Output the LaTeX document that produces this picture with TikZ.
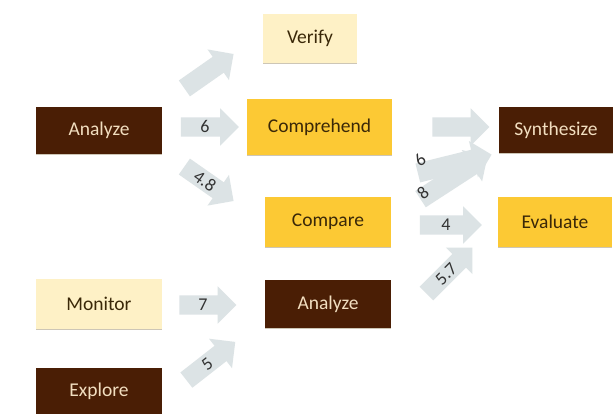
\documentclass[tikz,border=0pt]{standalone}
\usepackage{fontspec}
\setmainfont{Carlito}
\usetikzlibrary{shapes.arrows,shadows}
\definecolor{brn}{HTML}{4A1E05}
\definecolor{brntext}{HTML}{F2DEC0}
\definecolor{pale}{HTML}{FEF1C6}
\definecolor{gold}{HTML}{FCC934}
\definecolor{inktext}{HTML}{3A2808}
\definecolor{arr}{HTML}{DCE3E5}
\definecolor{shd}{HTML}{B8AE98}
\tikzset{
  box/.style={rectangle, inner sep=0pt, font=\fontsize{19.5}{22}\selectfont,
    drop shadow={shadow xshift=0pt, shadow yshift=-1.5pt, fill=shd, opacity=0.7}},
  darkbox/.style={box, fill=brn, text=brntext},
  palebox/.style={box, fill=pale, text=inktext},
  goldbox/.style={box, fill=gold, text=inktext},
  blk/.style={single arrow, fill=arr, draw=none, minimum width=37pt,
    single arrow head extend=9pt, single arrow head indent=0pt,
    inner xsep=1pt, inner ysep=3.5pt, text height=12pt, text depth=0pt,
    text=black!80, font=\fontsize{18}{20}\selectfont},
  lbl/.style={inner sep=0pt, text=black!80, font=\fontsize{18}{20}\selectfont}
}
\begin{document}
\begin{tikzpicture}[x=1pt,y=-1pt]
\useasboundingbox (0,0) rectangle (614,414);
\fill[white] (0,0) rectangle (614,414);
% boxes
\node[palebox, minimum width=94pt, minimum height=49pt] (verify) at (310,38.5) {Verify};
\node[darkbox, minimum width=126pt, minimum height=47pt] (analyzeA) at (99,130.5) {Analyze};
\node[goldbox, minimum width=145pt, minimum height=56pt] (comprehend) at (319.5,127) {Comprehend};
\node[goldbox, minimum width=126pt, minimum height=50pt] (compare) at (328,222) {Compare};
\node[darkbox, minimum width=126pt, minimum height=48pt] (analyzeB) at (328,304) {Analyze};
\node[darkbox, minimum width=114pt, minimum height=46pt] (synth) at (556,130) {Synthesize};
\node[goldbox, minimum width=114pt, minimum height=50pt] (evaluate) at (555,222) {Evaluate};
\node[palebox, minimum width=126pt, minimum height=50pt] (monitor) at (99,304) {Monitor};
\node[darkbox, minimum width=126pt, minimum height=46pt] (explore) at (99,391) {Explore};
% block arrows
\node[blk, minimum height=60pt, rotate=35] (a1) at (205,74) {};
\node[blk, minimum height=58pt] (a2) at (205,127) {6};
\node[blk, minimum height=60pt, rotate=-35] (a3) at (205,181) {4.8};
\node[blk, minimum height=57pt] (a4) at (456,127) {};
\node[blk, minimum height=76pt, rotate=14] (a5) at (450,165) {};
\node[blk, minimum height=80pt, rotate=33] (a6) at (450,180) {};
\node[lbl, rotate=40] (l5) at (420,160) {6};
\node[lbl, rotate=40] (l6) at (423,193) {8};
\node[blk, minimum height=62pt] (a7) at (446,225) {4};
\node[blk, minimum height=65pt, rotate=45] (a8) at (446,274) {5.7};
\node[blk, minimum height=57pt] (a9) at (203,305) {7};
\node[blk, minimum height=62pt, rotate=38] (a10) at (207,364) {5};
\end{tikzpicture}
\end{document}
